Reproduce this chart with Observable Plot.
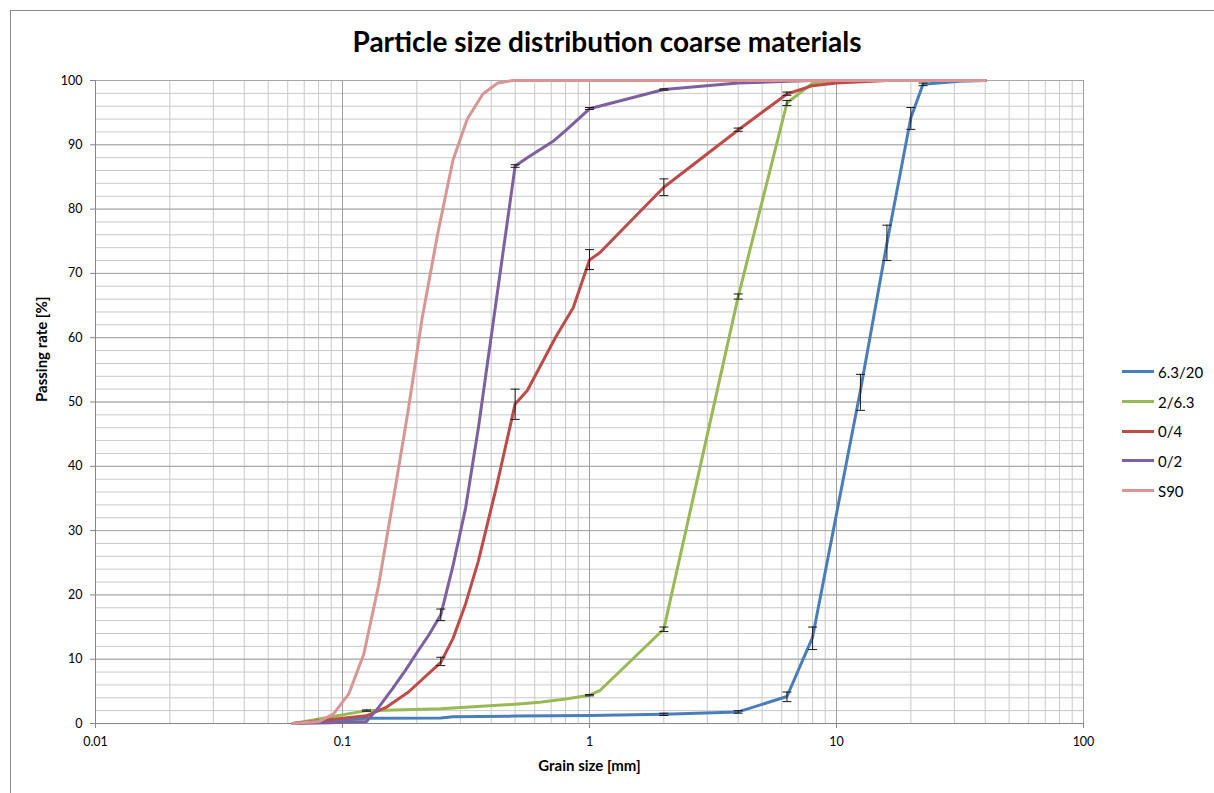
<!DOCTYPE html>
<html>
<head>
<meta charset="utf-8">
<script src="https://cdn.jsdelivr.net/npm/d3@7"></script>
<script src="https://cdn.jsdelivr.net/npm/@observablehq/plot@0.6"></script>
<style>
  body { margin: 0; background: #fff; }
  #wrap { position: relative; width: 1214px; height: 793px; overflow: hidden; font-family: Lato, "Open Sans", sans-serif; }
  #frame { position: absolute; left: 10px; top: 10px; width: 1220px; height: 800px; border-left: 1px solid #8c8c8c; border-top: 1px solid #8c8c8c; pointer-events: none; }
  #title { position: absolute; left: 0; top: 24px; width: 1214px; text-align: center; font-weight: bold; font-size: 28px; color: #000; }
  #legend { position: absolute; left: 1122px; top: 357px; font-size: 15px; color: #000; }
  .item { display: flex; align-items: center; height: 29.7px; }
  .swatch { width: 32px; height: 3px; margin-right: 4px; }
  #chart { position: absolute; left: 0; top: 0; }
</style>
</head>
<body>
<div id="wrap">
  <div id="chart"></div>
  <div id="frame"></div>
  <div id="title">Particle size distribution coarse materials</div>
  <div id="legend"></div>
</div>
<script>
// Sieve curves: grain size [mm] and cumulative passing [%] per material
const seriesNames = ["6.3/20", "2/6.3", "0/4", "0/2", "S90"];
const seriesColors = ["#4a7ebb", "#98b954", "#be4b48", "#7d60a0", "#d99694"];

const size_6_20 = [0.063, 0.1, 0.125, 0.25, 0.28, 0.5, 1, 2, 4, 6.3, 8, 12.5, 16, 20, 22.4, 31.5, 40];
const pass_6_20 = [0, 0.5, 0.8, 0.85, 1.05, 1.15, 1.25, 1.45, 1.8, 4.2, 13.4, 51.8, 74.7, 94.2, 99.4, 99.9, 100];

const size_2_6 = [0.063, 0.125, 0.25, 0.5, 0.63, 0.8, 1, 1.1, 2, 4, 6.3, 8, 10, 40];
const pass_2_6 = [0, 2.0, 2.3, 3.0, 3.3, 3.8, 4.4, 5.1, 14.7, 66.4, 96.5, 99.6, 100, 100];

const size_0_4 = [0.063, 0.125, 0.15, 0.185, 0.25, 0.28, 0.315, 0.355, 0.42, 0.5, 0.56, 0.73, 0.86, 1, 1.1, 2, 4, 6.3, 8, 10, 16, 40];
const pass_0_4 = [0, 1.2, 2.5, 4.9, 9.5, 13.2, 18.6, 25.3, 36.8, 49.7, 51.8, 60.1, 64.7, 72.1, 73.2, 83.4, 92.3, 97.9, 99.2, 99.6, 100, 100];

const size_0_2 = [0.063, 0.09, 0.125, 0.14, 0.16, 0.18, 0.2, 0.224, 0.25, 0.28, 0.315, 0.355, 0.5, 0.56, 0.71, 0.8, 1, 2, 4, 5.6, 8, 40];
const pass_0_2 = [0, 0.1, 0.3, 2.5, 5.5, 8.3, 11, 13.8, 16.9, 24.5, 33.5, 46, 86.7, 88.0, 90.5, 92.2, 95.6, 98.6, 99.6, 99.8, 100, 100];

const size_s90 = [0.063, 0.08, 0.092, 0.106, 0.122, 0.14, 0.16, 0.185, 0.21, 0.243, 0.28, 0.32, 0.37, 0.425, 0.49, 40];
const pass_s90 = [0, 0.3, 1.5, 4.6, 10.8, 21.5, 34.5, 49, 63, 76.2, 87.6, 94, 97.9, 99.6, 100, 100];

// Error bars (min / max of the repeated measurements)
const err_6_20 = { size: [2, 4, 6.3, 8, 12.5, 16, 20, 22.4], low: [1.25, 1.6, 3.4, 11.5, 48.7, 72, 92.4, 99.2], high: [1.6, 2.0, 4.9, 15.0, 54.3, 77.5, 95.8, 99.6] };
const err_2_6 = { size: [0.125, 1, 2, 4, 6.3], low: [1.9, 4.3, 14.3, 66.0, 96.1], high: [2.1, 4.5, 15.0, 66.8, 96.9] };
const err_0_4 = { size: [0.25, 0.5, 1, 2, 4, 6.3], low: [9.0, 47.3, 70.6, 82.1, 92.1, 97.7], high: [10.3, 52.0, 73.7, 84.7, 92.6, 98.2] };
const err_0_2 = { size: [0.25, 0.5, 1, 2], low: [16.0, 86.5, 95.5, 98.5], high: [17.8, 86.9, 95.8, 98.7] };

const xTicks = [0.01, 0.1, 1, 10, 100];
const yTicks = [0, 10, 20, 30, 40, 50, 60, 70, 80, 90, 100];

const curves = [
  [size_6_20, pass_6_20], [size_2_6, pass_2_6], [size_0_4, pass_0_4], [size_0_2, pass_0_2], [size_s90, pass_s90]
];
const rows = curves.flatMap(([xs, ys], i) => xs.map((x, j) => ({ series: seriesNames[i], size: x, pass: ys[j] })));

const errSets = [err_6_20, err_2_6, err_0_4, err_0_2];
const errRows = errSets.flatMap((e, i) => e.size.map((x, j) => ({ series: seriesNames[i], size: x, low: e.low[j], high: e.high[j] })));

// Grid: minor lines at 1..9 × each decade, every 2 % vertically
const xMinor = d3.range(-2, 2).flatMap(k => d3.range(1, 10).map(m => +(m * Math.pow(10, k)).toPrecision(3)));
const yMinor = d3.range(0, 101, 2);

// horizontal cap for the error bars
const cap = { draw(ctx, size) { const w = Math.sqrt(size / Math.PI); ctx.moveTo(-w, 0); ctx.lineTo(w, 0); } };

const font = "Lato, 'Open Sans', sans-serif";

const chart = Plot.plot({
  width: 1214,
  height: 793,
  marginLeft: 95,
  marginRight: 131,
  marginTop: 80,
  marginBottom: 70,
  style: { fontFamily: font, fontSize: "12px", color: "#000", background: "transparent" },
  x: { type: "log", domain: [0.01, 100] },
  y: { domain: [0, 100] },
  color: { domain: seriesNames, range: seriesColors },
  marks: [
    Plot.ruleX(xMinor, { stroke: "#c9c9c9", strokeWidth: 1 }),
    Plot.ruleY(yMinor, { stroke: "#c9c9c9", strokeWidth: 1 }),
    Plot.ruleY(yTicks, { stroke: "#a6a6a6", strokeWidth: 1 }),
    Plot.ruleX(xTicks, { stroke: "#a0a0a0", strokeWidth: 1 }),
    Plot.ruleY([0], { stroke: "#868686" }),
    Plot.ruleX([0.01], { stroke: "#868686" }),
    Plot.axisX({ ticks: xTicks, tickFormat: d => String(d), tickSize: 5, tickPadding: 9, stroke: "#868686", label: null, fontSize: 12.5 }),
    Plot.axisY({ ticks: yTicks, tickSize: 5, tickPadding: 8, stroke: "#868686", label: null, fontSize: 12.5 }),
    Plot.line(rows, { x: "size", y: "pass", z: "series", stroke: "series", strokeWidth: 3, strokeLinejoin: "round", curve: "linear" }),
    Plot.ruleX(errRows, { x: "size", y1: "low", y2: "high", stroke: "#1a1a1a", strokeWidth: 1 }),
    Plot.dot(errRows, { x: "size", y: "low", symbol: cap, r: 4.5, stroke: "#1a1a1a", strokeWidth: 1, fill: "none" }),
    Plot.dot(errRows, { x: "size", y: "high", symbol: cap, r: 4.5, stroke: "#1a1a1a", strokeWidth: 1, fill: "none" }),
    Plot.text(["Grain size [mm]"], { frameAnchor: "bottom", dy: 47, fontWeight: "bold", fontSize: 15 }),
    Plot.text(["Passing rate [%]"], { frameAnchor: "left", dx: -53, rotate: -90, fontWeight: "bold", fontSize: 15 })
  ]
});
document.getElementById("chart").appendChild(chart);

// Legend
const legend = document.getElementById("legend");
seriesNames.forEach((name, i) => {
  const item = document.createElement("div");
  item.className = "item";
  const sw = document.createElement("span");
  sw.className = "swatch";
  sw.style.background = seriesColors[i];
  const label = document.createElement("span");
  label.textContent = name;
  item.appendChild(sw);
  item.appendChild(label);
  legend.appendChild(item);
});
</script>
</body>
</html>
